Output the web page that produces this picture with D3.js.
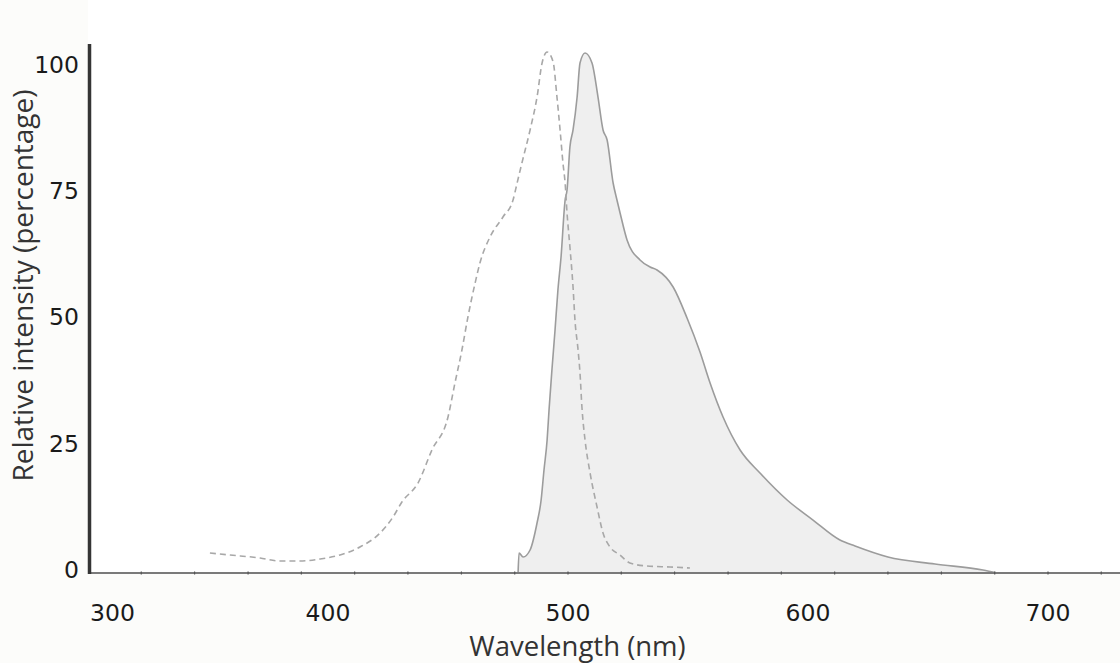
<!DOCTYPE html>
<html>
<head>
<meta charset="utf-8">
<script src="https://cdn.jsdelivr.net/npm/d3@7"></script>
<style>
  html, body { margin: 0; padding: 0; background: #fcfcfa; }
  svg { display: block; }
</style>
</head>
<body>
<svg id="chart" width="1120" height="663"></svg>
<script>
// ---- data (wavelength in nm, relative intensity in %) ----
const excitationWavelength = [350.8, 359.2, 371.7, 380.0, 388.3, 396.7, 405.0, 413.3, 421.7, 427.1, 430.8, 437.5, 443.3, 450.0, 452.9, 455.8, 458.3, 461.3, 463.3, 467.5, 472.9, 477.1, 478.8, 480.8, 484.2, 487.1, 489.2, 491.3, 493.8, 495.4, 496.7, 497.9, 498.8, 499.6, 500.8, 502.1, 502.9, 504.2, 505.0, 505.8, 507.1, 509.2, 512.1, 514.6, 517.5, 521.7, 525.8, 532.9, 542.5, 550.8];
const excitationIntensity  = [3.96, 3.56, 2.97, 2.37, 2.37, 2.77, 3.56, 5.14, 7.91, 11.08, 14.05, 17.80, 24.33, 30.86, 37.59, 44.11, 50.64, 57.37, 61.33, 66.47, 70.43, 73.79, 77.15, 81.11, 87.64, 94.16, 100.89, 103.07, 101.1, 94.16, 87.64, 81.11, 77.15, 71.22, 64.49, 56.58, 50.05, 44.11, 39.56, 32.84, 26.31, 19.78, 13.06, 7.91, 5.14, 3.56, 1.98, 1.38, 1.19, 0.99];

const emissionWavelength = [479.2, 479.6, 481.3, 484.2, 487.1, 488.8, 490.0, 491.3, 492.1, 493.3, 494.6, 495.8, 497.1, 498.8, 499.6, 500.8, 502.1, 503.8, 505.0, 507.1, 510.0, 512.5, 514.6, 516.3, 518.8, 520.4, 521.7, 524.6, 530.0, 534.2, 537.1, 543.8, 549.6, 555.0, 559.2, 564.6, 571.7, 580.0, 591.3, 602.1, 613.3, 619.6, 633.3, 652.9, 672.9, 678.8];
const emissionIntensity  = [0, 3.96, 3.17, 4.55, 9.89, 14.44, 20.38, 26.31, 32.25, 40.16, 48.07, 55.98, 62.51, 73.79, 75.77, 84.27, 87.64, 94.16, 100.89, 102.87, 100.89, 94.16, 87.64, 85.66, 77.15, 73.79, 71.22, 65.88, 61.92, 60.53, 59.94, 56.58, 50.45, 43.72, 37.59, 30.86, 24.33, 19.78, 14.44, 10.48, 6.53, 5.34, 3.17, 1.78, 0.59, 0];

const xTickValues = [300, 400, 500, 600, 700];
const yTickValues = [0, 25, 50, 75, 100];
const xMinorTicks = [322.2, 344.4, 366.7, 388.9, 411.1, 433.3, 455.6, 477.8, 500, 522.2, 544.4, 566.7, 588.9, 611.1, 633.3, 655.6, 677.8, 700, 722.2];
const xTitle = "Wavelength (nm)";
const yTitle = "Relative intensity (percentage)";

// ---- layout ----
const svg = d3.select("#chart");
const x = d3.scaleLinear().domain([300, 730]).range([88, 1120]);
const y = d3.scaleLinear().domain([0, 100]).range([573, 67.5]);

// plot background
svg.append("rect").attr("x", 88).attr("y", 0).attr("width", 1032).attr("height", 573).attr("fill", "#ffffff");

const excitation = excitationWavelength.map((w, i) => ({w, v: excitationIntensity[i]}));
const emission = emissionWavelength.map((w, i) => ({w, v: emissionIntensity[i]}));

const area = d3.area().x(d => x(d.w)).y0(y(0)).y1(d => y(d.v)).curve(d3.curveMonotoneX);
const line = d3.line().x(d => x(d.w)).y(d => y(d.v)).curve(d3.curveMonotoneX);

// emission (filled)
svg.append("path").datum(emission).attr("d", area).attr("fill", "#efefef");
svg.append("path").datum(emission).attr("d", line).attr("fill", "none")
  .attr("stroke", "#9c9c9c").attr("stroke-width", 1.6);

// excitation (dashed)
svg.append("path").datum(excitation).attr("d", line).attr("fill", "none")
  .attr("stroke", "#a8a8a8").attr("stroke-width", 1.6).attr("stroke-dasharray", "6,4");

// x axis line
svg.append("line").attr("x1", 88).attr("x2", 1120).attr("y1", y(0)).attr("y2", y(0))
  .attr("stroke", "#7a7a7a").attr("stroke-width", 2);
// minor ticks
svg.append("g").selectAll("line").data(xMinorTicks).join("line")
  .attr("x1", d => x(d)).attr("x2", d => x(d))
  .attr("y1", y(0) - 1.5).attr("y2", y(0) + 1.5)
  .attr("stroke", "#555").attr("stroke-width", 1.2);

// x tick labels
svg.append("g").selectAll("text").data(xTickValues).join("text")
  .attr("x", (d, i) => x(d) + (i === 0 ? 24.5 : 0))
  .attr("y", 621)
  .attr("text-anchor", "middle")
  .attr("font-family", "'DejaVu Sans', sans-serif")
  .attr("font-size", 23.5)
  .attr("fill", "#1a1a1a")
  .text(d => d);

// y tick labels
svg.append("g").selectAll("text").data(yTickValues).join("text")
  .attr("x", 79)
  .attr("y", d => y(d) + 5)
  .attr("text-anchor", "end")
  .attr("font-family", "'DejaVu Sans', sans-serif")
  .attr("font-size", 23.5)
  .attr("fill", "#1a1a1a")
  .text(d => d);

// y axis line
svg.append("line").attr("x1", 89.5).attr("x2", 89.5).attr("y1", 44).attr("y2", y(0) + 1)
  .attr("stroke", "#353535").attr("stroke-width", 3.5);

// titles
svg.append("text").attr("x", 577.5).attr("y", 656)
  .attr("text-anchor", "middle")
  .attr("font-family", "'Open Sans', sans-serif").attr("font-size", 27.5)
  .attr("fill", "#333").text(xTitle);

svg.append("text").attr("transform", "translate(33,285.5) rotate(-90)")
  .attr("text-anchor", "middle")
  .attr("font-family", "'Open Sans', sans-serif").attr("font-size", 28)
  .attr("fill", "#333").text(yTitle);
</script>
</body>
</html>
